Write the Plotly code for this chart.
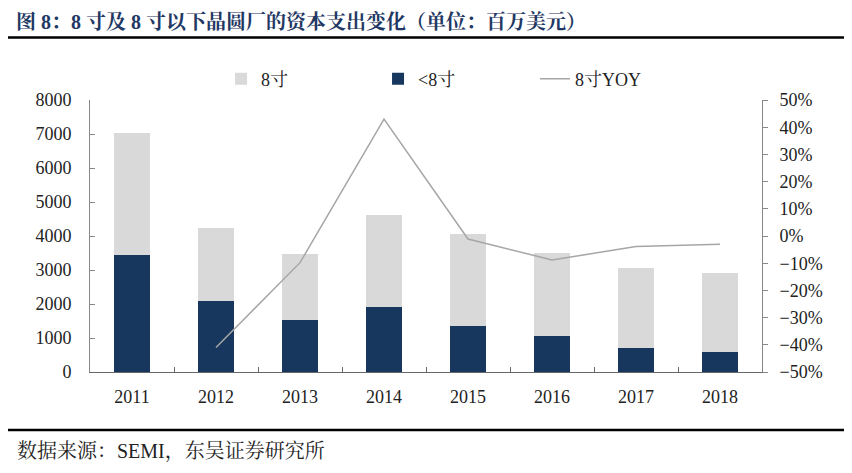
import plotly.graph_objects as go

years = ["2011", "2012", "2013", "2014", "2015", "2016", "2017", "2018"]
under8 = [3430, 2100, 1525, 1900, 1350, 1050, 700, 600]
inch8 = [3590, 2150, 1945, 2730, 2710, 2460, 2370, 2300]
yoy = [None, -41, -9.8, 43, -1.1, -8.8, -3.9, -3.0]

serif = "Liberation Serif, Noto Serif CJK SC, Noto Sans CJK SC"

fig = go.Figure()
fig.add_trace(go.Bar(x=years, y=under8, name="<8寸", marker_color="#17375e",
                     marker_line_width=0, legendrank=2))
fig.add_trace(go.Bar(x=years, y=inch8, name="8寸", marker_color="#d9d9d9",
                     marker_line_width=0, legendrank=1))
fig.add_trace(go.Scatter(x=years, y=yoy, name="8寸YOY", mode="lines", yaxis="y2",
                         line=dict(color="#a6a6a6", width=1.5), legendrank=3))

# page has an 8px body margin, so margins are offset by 8
fig.update_layout(
    width=852, height=473,
    margin=dict(l=82, r=98, t=92, b=109, autoexpand=False),
    paper_bgcolor="white", plot_bgcolor="white",
    barmode="stack", bargap=0.57,
    font=dict(family=serif, size=18, color="#222"),
    showlegend=True,
    legend=dict(orientation="h", x=0.195, y=1.077, xanchor="left", yanchor="middle",
                font=dict(size=18), traceorder="normal", itemwidth=30,
                entrywidth=112, entrywidthmode="pixels",
                bgcolor="rgba(0,0,0,0)"),
    xaxis=dict(showline=True, linecolor="#666", linewidth=1.2, ticks="inside",
               tickson="boundaries", ticklen=5, tickcolor="#666",
               ticklabelstandoff=8, showgrid=False),
    yaxis=dict(range=[0, 8000], dtick=1000, showline=True, linecolor="#888",
               ticks="inside", ticklen=5, tickcolor="#888", showgrid=False,
               zeroline=False, ticklabelstandoff=14),
    yaxis2=dict(range=[-50, 50], dtick=10, ticksuffix="%", overlaying="y",
                side="right", showline=True, linecolor="#888", ticks="outside",
                ticklen=5, tickcolor="#888", showgrid=False, zeroline=False,
                ticklabelstandoff=8),
)

# title, rules and source
fig.add_annotation(text="<b>图 8：8 寸及 8 寸以下晶圆厂的资本支出变化（单位：百万美元）</b>",
                   xref="paper", yref="paper", x=-0.1116, y=1.2868,
                   xanchor="left", yanchor="middle", showarrow=False, borderpad=0,
                   font=dict(size=20, color="#1f3864", family=serif))
fig.add_shape(type="line", xref="paper", yref="paper", x0=-0.1235, x1=1.134,
              y0=1.2298, y1=1.2298, line=dict(color="black", width=2.5))
fig.add_shape(type="line", xref="paper", yref="paper", x0=-0.1235, x1=1.134,
              y0=-0.2132, y1=-0.2132, line=dict(color="black", width=2.5))
fig.add_annotation(text="数据来源：SEMI，东吴证券研究所",
                   xref="paper", yref="paper", x=-0.1116, y=-0.293,
                   xanchor="left", yanchor="middle", showarrow=False,
                   font=dict(size=20, color="#222", family=serif))

fig.write_html("out.html")
